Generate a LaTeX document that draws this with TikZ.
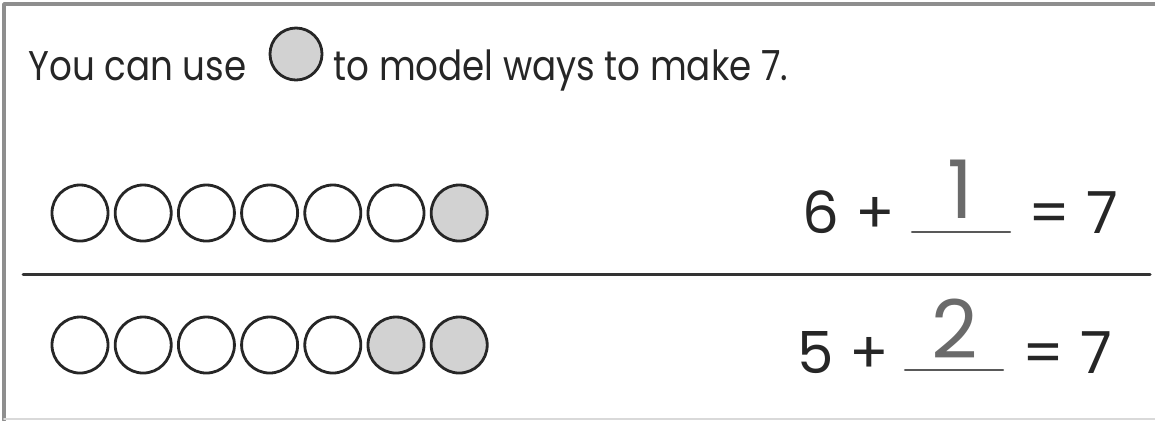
\documentclass[tikz,border=0pt]{standalone}
\usepackage{fontspec}
\setmainfont{Poppins}
\newfontfamily\promptfont{Poppins}[FakeStretch=0.86]
\usetikzlibrary{positioning}
\definecolor{counter}{HTML}{D2D2D2}
\definecolor{framegray}{HTML}{8E8E8E}
\definecolor{tracegray}{HTML}{6A6A6A}

\begin{document}
\begin{tikzpicture}[x=0.01cm, y=-0.01cm, line join=round, line cap=round,
    bead/.style={circle, draw=black!85, line width=0.8pt, minimum size=0.56cm, inner sep=0pt},
    prompt/.style={font=\promptfont\fontsize{11.8}{14}\selectfont, inner sep=0pt, anchor=base west, text=black!85},
    eqn/.style={font=\fontsize{16.5}{18}\selectfont, inner sep=0pt, anchor=base west, text=black!85},
    tracedigit/.style={font=\fontsize{23}{26}\selectfont, inner sep=0pt, anchor=base, text=tracegray},
    blank/.style={draw=black!65, line width=0.6pt}]
  \useasboundingbox (0,0) rectangle (1155,420);
  \draw[framegray, line width=1.1pt] (4,420) -- (4,4) -- (1155,4);
  \draw[black!15, line width=0.5pt] (4,419) -- (1155,419);

  \node[prompt] (you) at (28,80) {You can use};
  \node[bead, fill=counter, minimum size=0.52cm] (key) at (296,54) {};
  \node[prompt] (rest) at (333,80) {to model ways to make 7.};

  \foreach \i in {1,...,7} {
    \ifnum\i>6 \def\fc{counter}\else\def\fc{white}\fi
    \node[bead, fill=\fc] (top\i) at ({80+63.2*(\i-1)},213) {};
    \ifnum\i>5 \def\fc{counter}\else\def\fc{white}\fi
    \node[bead, fill=\fc] (low\i) at ({80+63.2*(\i-1)},345) {};
  }

  \draw[black!80, line width=0.85pt] (23,274) -- (1150,274);

  \node[eqn] (sixplus) at (802,233) {6 +};
  \coordinate (blankA) at (912,232);
  \coordinate (blankB) at (1010,232);
  \draw[blank] (blankA) -- (blankB);
  \node[tracedigit] (one) at (960,218) {1};
  \node[eqn] (eqtop) at (1028,233) {= 7};

  \node[eqn] (fiveplus) at (797,373) {5 +};
  \coordinate (blankC) at (905,370);
  \coordinate (blankD) at (1003,370);
  \draw[blank] (blankC) -- (blankD);
  \node[tracedigit] (two) at (955,358) {2};
  \node[eqn] (eqlow) at (1022,373) {= 7};
\end{tikzpicture}
\end{document}
